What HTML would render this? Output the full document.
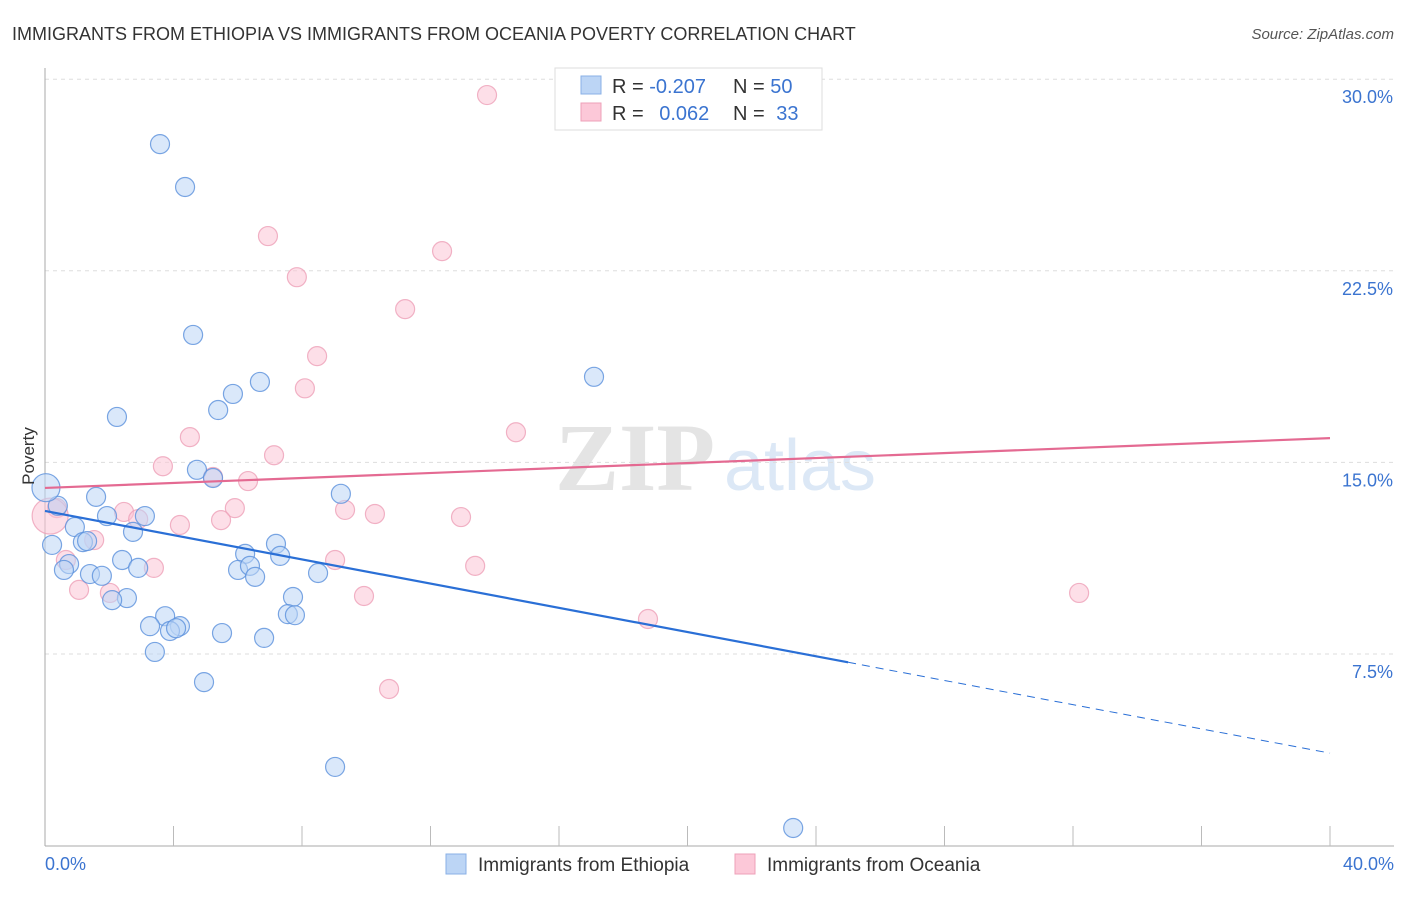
<!DOCTYPE html>
<html><head><meta charset="utf-8"><style>
body{margin:0;background:#fff;font-family:"Liberation Sans",sans-serif;}
</style></head><body>
<svg id="chart" width="1406" height="892" xmlns="http://www.w3.org/2000/svg">
<text x="12" y="40" font-size="18" fill="#333">IMMIGRANTS FROM ETHIOPIA VS IMMIGRANTS FROM OCEANIA POVERTY CORRELATION CHART</text>
<text x="1394" y="39" font-size="15" fill="#555" font-style="italic" text-anchor="end">Source: ZipAtlas.com</text>
<g>
<text x="635" y="490" font-size="96" fill="#e4e4e4" font-family="Liberation Serif" font-weight="bold" text-anchor="middle">ZIP</text>
<text x="800" y="490" font-size="72" fill="#dce8f6" text-anchor="middle">atlas</text>
</g>
<g id="grid"></g>
<g id="axes"></g>
<g id="marks"></g>
<g>
<rect x="555" y="68" width="267" height="62" fill="#fff" stroke="#ddd"/>
<rect x="581" y="76" width="20" height="18" fill="#bcd5f5" stroke="#8ab0e6"/>
<rect x="581" y="103" width="20" height="18" fill="#fcc8d8" stroke="#eea0b8"/>
<text x="612" y="93" font-size="20" fill="#333">R = <tspan fill="#3b74d0">-0.207</tspan></text>
<text x="733" y="93" font-size="20" fill="#333">N = <tspan fill="#3b74d0">50</tspan></text>
<text x="612" y="120" font-size="20" fill="#333">R = <tspan fill="#3b74d0" dx="10">0.062</tspan></text>
<text x="733" y="120" font-size="20" fill="#333">N = <tspan fill="#3b74d0" dx="6">33</tspan></text>
</g>
<g>
<rect x="446" y="854" width="20" height="20" fill="#bcd5f5" stroke="#8ab0e6"/>
<text x="478" y="871" font-size="19" fill="#333">Immigrants from Ethiopia</text>
<rect x="735" y="854" width="20" height="20" fill="#fcc8d8" stroke="#eea0b8"/>
<text x="767" y="871" font-size="19" fill="#333">Immigrants from Oceania</text>
</g>
<text transform="translate(34,456) rotate(-90)" font-size="17" fill="#333" text-anchor="middle">Poverty</text>
</svg>
<script>
const yTicks=[7.5,15,22.5,30];
const yTickLabels=["7.5%","15.0%","22.5%","30.0%"];
const blueX=[3.58,4.36,4.61,2.24,5.39,5.85,6.69,17.09,4.73,5.23,1.59,0.40,3.11,1.93,0.93,2.74,0.22,1.18,1.31,7.19,7.32,6.23,2.40,0.75,0.59,1.40,1.77,2.90,6.01,6.38,6.54,8.50,9.21,2.55,2.09,3.74,7.72,7.56,7.78,3.27,4.20,3.89,4.08,5.51,6.82,3.42,4.95,9.03,23.29,0.03];
const blueY=[27.46,25.78,19.99,16.78,17.05,17.68,18.15,18.35,14.71,14.39,13.65,13.30,12.90,12.90,12.47,12.28,11.77,11.88,11.92,11.81,11.34,11.42,11.18,11.02,10.79,10.63,10.56,10.87,10.79,10.95,10.52,10.67,13.77,9.69,9.61,8.98,9.73,9.06,9.02,8.59,8.59,8.40,8.51,8.32,8.13,7.58,6.40,3.08,0.69,14.01];
const pinkX=[13.76,6.94,12.36,7.84,11.21,8.47,8.09,14.66,4.51,3.67,7.13,5.23,6.32,5.91,2.46,2.90,5.48,4.20,9.34,10.27,12.95,0.37,0.16,1.53,0.65,3.39,9.03,13.39,1.06,2.02,9.93,10.71,18.77,32.19];
const pinkY=[29.38,23.86,23.27,22.25,21.00,19.16,17.90,16.18,15.99,14.85,15.28,14.43,14.27,13.21,13.06,12.78,12.74,12.55,13.14,12.98,12.86,13.21,12.90,11.96,11.18,10.87,11.18,10.95,10.01,9.89,9.77,6.13,8.87,9.89];
const blueTrend=[13.10,3.62];
const pinkTrend=[14.00,15.95];
const blueSolidEnd=25.0;

const NS="http://www.w3.org/2000/svg";
const X=v=>45+v/40*1285;
const Y=v=>845.6-v/7.5*191.6;
function mk(tag,attrs,parent){const e=document.createElementNS(NS,tag);for(const k in attrs)e.setAttribute(k,attrs[k]);parent.appendChild(e);return e;}
const grid=document.getElementById('grid'),axes=document.getElementById('axes'),marks=document.getElementById('marks');
yTicks.forEach((t,i)=>{
 const l=mk('line',{x1:45,x2:1394,y1:Y(t),y2:Y(t),stroke:'#ddd','stroke-dasharray':'4,4'},grid);
 
 
 const tx=mk('text',{x:1393,y:Y(t)+24,'font-size':18,fill:'#3b74d0','text-anchor':'end'},axes);
 tx.textContent=yTickLabels[i];
 
 
});
const ya=mk('line',{x1:45,x2:45,y1:68,y2:846,stroke:'#aaa'},axes);


const xa=mk('line',{x1:45,x2:1394,y1:846,y2:846,stroke:'#aaa'},axes);


for(let i=1;i<=10;i++){const t=mk('line',{x1:X(i*4),x2:X(i*4),y1:826,y2:846,stroke:'#bbb'},axes);
 
 }
[["0.0%",45,"start"],["40.0%",1394,"end"]].forEach(a=>{const t=mk('text',{x:a[1],y:870,'font-size':18,fill:'#3b74d0','text-anchor':a[2]},axes);t.textContent=a[0];
 
 });
function pts(xs,ys,fill,stroke,name,bigIdx){xs.forEach((x,i)=>{const r=(i===bigIdx)?(name==='ethiopia-point'?14:18):9.5;
 const c=mk('circle',{cx:X(x),cy:Y(ys[i]),r:r,fill:fill,'fill-opacity':0.55,stroke:stroke,'stroke-opacity':0.8,'stroke-width':1.2},marks);
 
 });}
pts(pinkX,pinkY,'#fbc4d6','#eea0b8','oceania-point',22);
pts(blueX,blueY,'#bcd5f5','#5a90dc','ethiopia-point',49);
const yb=v=>blueTrend[0]+(blueTrend[1]-blueTrend[0])*v/40;
const b1=mk('line',{x1:X(0),y1:Y(blueTrend[0]),x2:X(blueSolidEnd),y2:Y(yb(blueSolidEnd)),stroke:'#2a6fd6','stroke-width':2.2},marks);


const b2=mk('line',{x1:X(blueSolidEnd),y1:Y(yb(blueSolidEnd)),x2:X(40),y2:Y(blueTrend[1]),stroke:'#2a6fd6','stroke-width':1,'stroke-dasharray':'8,6'},marks);


const p1=mk('line',{x1:X(0),y1:Y(pinkTrend[0]),x2:X(40),y2:Y(pinkTrend[1]),stroke:'#e46a92','stroke-width':2.2},marks);


</script>
</body></html>
